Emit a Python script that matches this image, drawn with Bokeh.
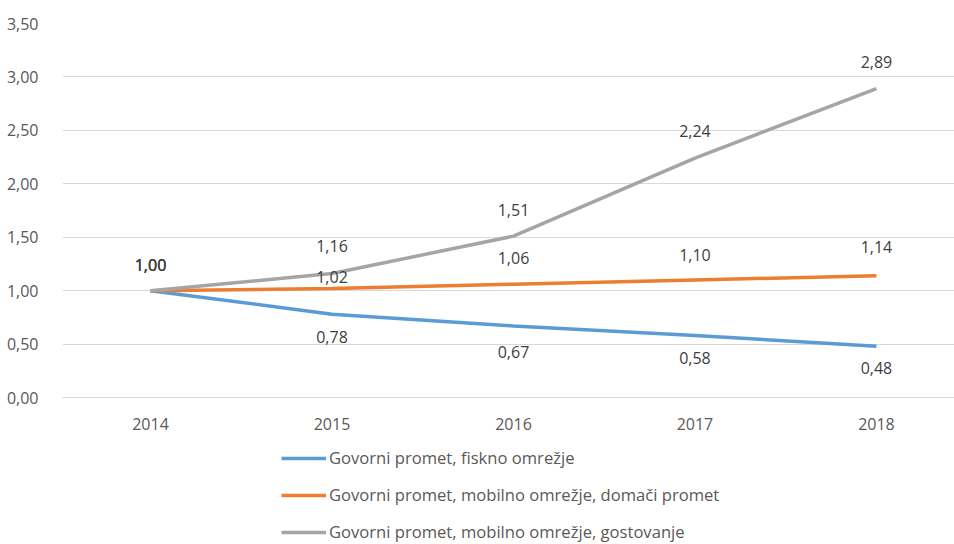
from bokeh.plotting import figure
from bokeh.layouts import column
from bokeh.models import ColumnDataSource, Legend, LegendItem, Range1d, CustomJSTickFormatter, FixedTicker, LabelSet
from bokeh.core.properties import value
from bokeh.embed import file_html
from bokeh.resources import INLINE

years = [2014, 2015, 2016, 2017, 2018]
fisk = [1.00, 0.78, 0.67, 0.58, 0.48]
mob_dom = [1.00, 1.02, 1.06, 1.10, 1.14]
mob_gost = [1.00, 1.16, 1.51, 2.24, 2.89]
names = ["Govorni promet, fiskno omrežje",
         "Govorni promet, mobilno omrežje, domači promet",
         "Govorni promet, mobilno omrežje, gostovanje"]
colors = ["#5B9BD5", "#ED7D31", "#A5A5A5"]
# label offsets in screen px (style)
label_offsets = [[-26, 23, 26, 22, 22], [-26, -12, -26, -25, -29], [-26, -28, -26, -27, -27]]

FONT = "Open Sans"
FS = "16px"
p = figure(width=954, height=437, output_backend="svg", toolbar_location=None,
           x_range=Range1d(2013.515, 2018.43), y_range=Range1d(0, 3.5),
           min_border_left=62, min_border_right=0, min_border_top=23, min_border_bottom=40)
p.outline_line_color = None
p.background_fill_color = "white"
p.border_fill_color = "white"
p.xgrid.grid_line_color = None
p.ygrid.grid_line_color = "#D9D9D9"
p.ygrid.grid_line_width = 1

p.yaxis.ticker = FixedTicker(ticks=[0, 0.5, 1, 1.5, 2, 2.5, 3, 3.5])
p.yaxis.formatter = CustomJSTickFormatter(code="return tick.toFixed(2).replace('.', ',');")
p.yaxis.axis_line_color = None
p.yaxis.major_tick_line_color = None
p.yaxis.minor_tick_line_color = None
p.yaxis.major_label_text_font = FONT
p.yaxis.major_label_text_font_size = FS
p.yaxis.major_label_text_color = "#595959"
p.yaxis.major_label_standoff = 18

p.xaxis.ticker = FixedTicker(ticks=years)
p.xaxis.axis_line_color = "#D9D9D9"
p.xaxis.major_tick_line_color = None
p.xaxis.minor_tick_line_color = None
p.xaxis.major_label_text_font = FONT
p.xaxis.major_label_text_font_size = FS
p.xaxis.major_label_text_color = "#595959"
p.xaxis.major_label_standoff = 14

# legend holder figure (series drawn outside its visible range, only the legend shows)
p2 = figure(width=954, height=107, output_backend="svg", toolbar_location=None,
            x_range=Range1d(0, 1), y_range=Range1d(0, 1),
            min_border=0, x_axis_location=None, y_axis_location=None)
p2.outline_line_color = None
p2.grid.visible = False
p2.background_fill_color = "white"
p2.border_fill_color = "white"

items = []
series = [fisk, mob_dom, mob_gost]
for vals, name, col, offs in zip(series, names, colors, label_offsets):
    src = ColumnDataSource(dict(x=years, y=vals,
                                lab=[f"{v:.2f}".replace('.', ',') for v in vals],
                                off=[-o for o in offs]))
    p.line("x", "y", source=src, line_color=col, line_width=3.5)
    ls = LabelSet(x="x", y="y", text="lab", source=src, y_offset="off",
                  text_align="center", text_baseline="middle",
                  text_font=value(FONT), text_font_size=value(FS), text_color="#404040")
    p.add_layout(ls)
    r2 = p2.line("x", "y", source=src, line_color=col, line_width=3.5)
    items.append(LegendItem(label=name, renderers=[r2]))

legend = Legend(items=items, orientation="vertical", location=(219, 1),
                label_text_font=FONT, label_text_font_size="16.6px", label_text_color="#595959",
                glyph_width=45, glyph_height=20, label_height=20, spacing=14,
                label_standoff=3, padding=2, margin=0, border_line_color=None,
                background_fill_alpha=0)
p2.add_layout(legend, "center")

layout = column(p, p2, spacing=0)
open("out.html", "w").write(file_html(layout, INLINE))
